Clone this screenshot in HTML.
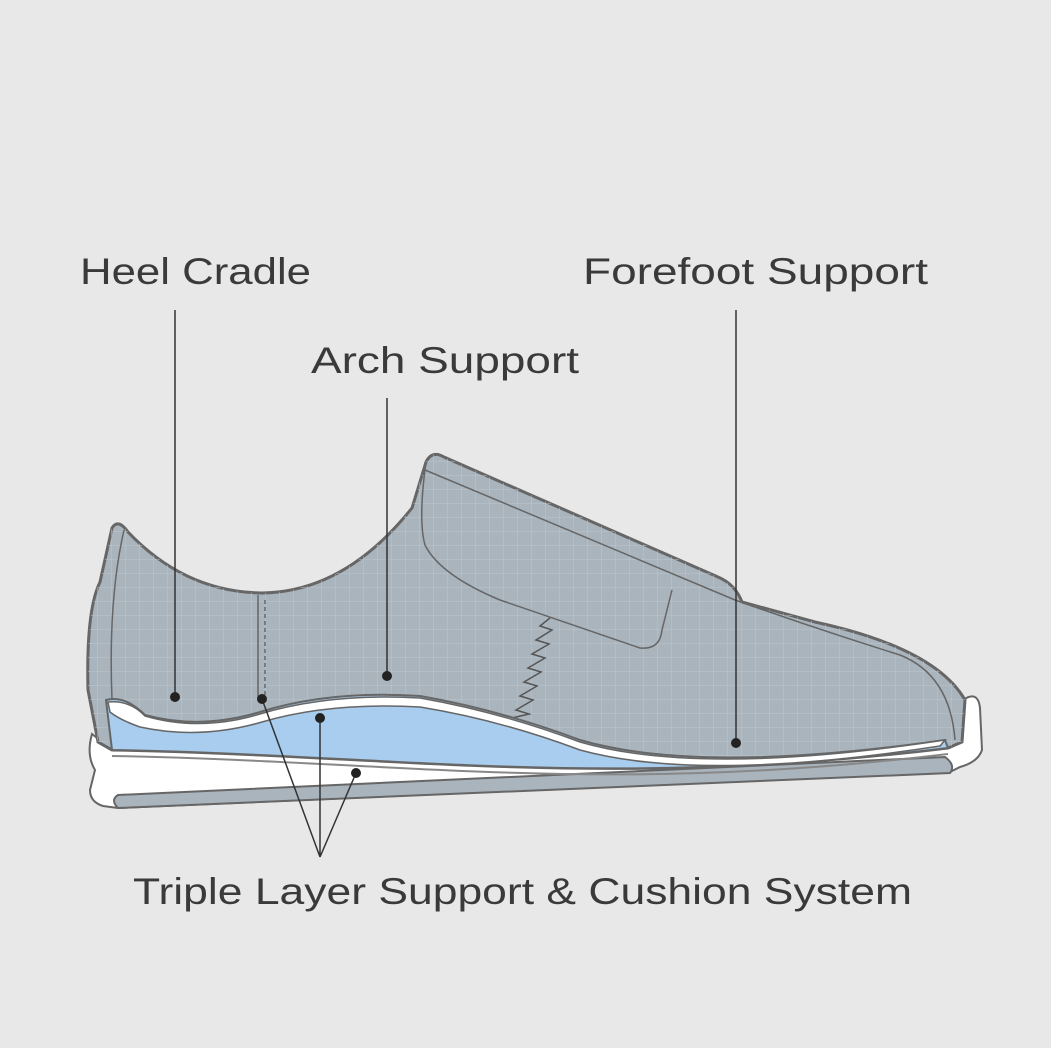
<!DOCTYPE html>
<html><head><meta charset="utf-8"><style>
html,body{margin:0;padding:0;background:#e8e8e8;}
svg{display:block}
text{font-family:"Liberation Sans",sans-serif;fill:#3a3a3a;font-size:37px;}
</style></head><body>
<svg width="1051" height="1048" viewBox="0 0 1051 1048" xmlns="http://www.w3.org/2000/svg">
<defs>
<pattern id="g" width="14" height="14" patternUnits="userSpaceOnUse">
<path d="M14 0V14M0 14H14" stroke="#bcc6ce" stroke-width="1" fill="none"/>
</pattern>
</defs>
<rect width="1051" height="1048" fill="#e8e8e8"/>
<!-- sole white -->
<path d="M92,734 L112,750 C400,755 600,790 948,748 L962,742 L963,700 Q978,690 980,708 L982,750 Q978,762 960,767 L950,772 L118,808 L103,806 Q90,802 90,790 L95,770 Q86,755 92,734 Z" fill="#fff" stroke="#666" stroke-width="2"/>
<path d="M118,795 L945,757 Q956,765 950,773 L118,808 Q110,800 118,795 Z" fill="#a9b4bd" stroke="#666" stroke-width="2"/>
<!-- upper -->
<path id="up" d="M98,742 L88,690 Q86,610 100,582 L112,528 Q118,518 128,532 Q185,592 262,593 Q345,592 412,508 L426,462 Q432,450 444,457 L718,577 Q735,584 742,602 L815,622 Q935,648 965,700 L962,742 L948,748 C600,790 400,755 112,750 Z" fill="#a9b4bd" stroke="#666" stroke-width="3"/>
<path d="M98,742 L88,690 Q86,610 100,582 L112,528 Q118,518 128,532 Q185,592 262,593 Q345,592 412,508 L426,462 Q432,450 444,457 L718,577 Q735,584 742,602 L815,622 Q935,648 965,700 L962,742 L948,748 C600,790 400,755 112,750 Z" fill="url(#g)"/>
<!-- inner lines -->
<path d="M124,530 Q108,600 112,700" fill="none" stroke="#666" stroke-width="1.5"/>
<path d="M426,462 Q418,520 425,545 Q440,575 500,600 L640,648 Q660,650 662,630 L672,590" fill="none" stroke="#666" stroke-width="1.5"/>
<path d="M425,470 L735,600 Q820,630 900,655 Q950,675 955,740" fill="none" stroke="#666" stroke-width="1.5"/>
<path d="M258,595 L258,700" stroke="#666" stroke-width="1.5"/>
<path d="M265,600 L265,700" stroke="#666" stroke-width="1.5" stroke-dasharray="4,3"/>
<path d="M550,618 L540,626 L552,630 L536,640 L549,644 L532,654 L545,658 L528,668 L541,672 L524,682 L537,686 L520,696 L533,700 L516,710 L529,714 L512,718 L500,720" fill="none" stroke="#555" stroke-width="1.5"/>
<!-- blue layer -->
<path d="M106,700 Q125,695 145,715 Q200,730 260,712 Q330,690 420,696 Q500,710 580,740 Q700,775 945,740 L948,748 C600,790 400,755 112,750 Z" fill="#a8cdee" stroke="#666" stroke-width="2"/>
<!-- white insole -->
<path d="M108,702 Q130,700 145,716 Q200,732 260,714 Q330,693 420,698 Q500,712 580,742 Q700,777 945,740 L940,746 Q700,783 580,750 Q500,720 420,707 Q330,702 262,722 Q200,740 140,727 Q120,720 110,712 Z" fill="#fff" stroke="#666" stroke-width="1.5"/>
<path d="M112,756 C400,761 600,796 948,754" fill="none" stroke="#888" stroke-width="2"/>
<!-- leaders -->
<g stroke="#333" stroke-width="1.5" fill="none">
<path d="M175,310 V697"/>
<path d="M387,398 V676"/>
<path d="M736,310 V743"/>
<path d="M320,857 L262,699 M320,857 V718 M320,857 L356,773"/>
</g>
<g fill="#222">
<circle cx="175" cy="697" r="5"/><circle cx="387" cy="676" r="5"/><circle cx="736" cy="743" r="5"/>
<circle cx="262" cy="699" r="5"/><circle cx="320" cy="718" r="5"/><circle cx="356" cy="773" r="5"/>
</g>
<text x="80" y="284" textLength="231" lengthAdjust="spacingAndGlyphs">Heel Cradle</text>
<text x="583" y="284" textLength="345" lengthAdjust="spacingAndGlyphs">Forefoot Support</text>
<text x="311" y="373" textLength="268" lengthAdjust="spacingAndGlyphs">Arch Support</text>
<text x="133" y="904" textLength="779" lengthAdjust="spacingAndGlyphs">Triple Layer Support &amp; Cushion System</text>
</svg>
</body></html>
